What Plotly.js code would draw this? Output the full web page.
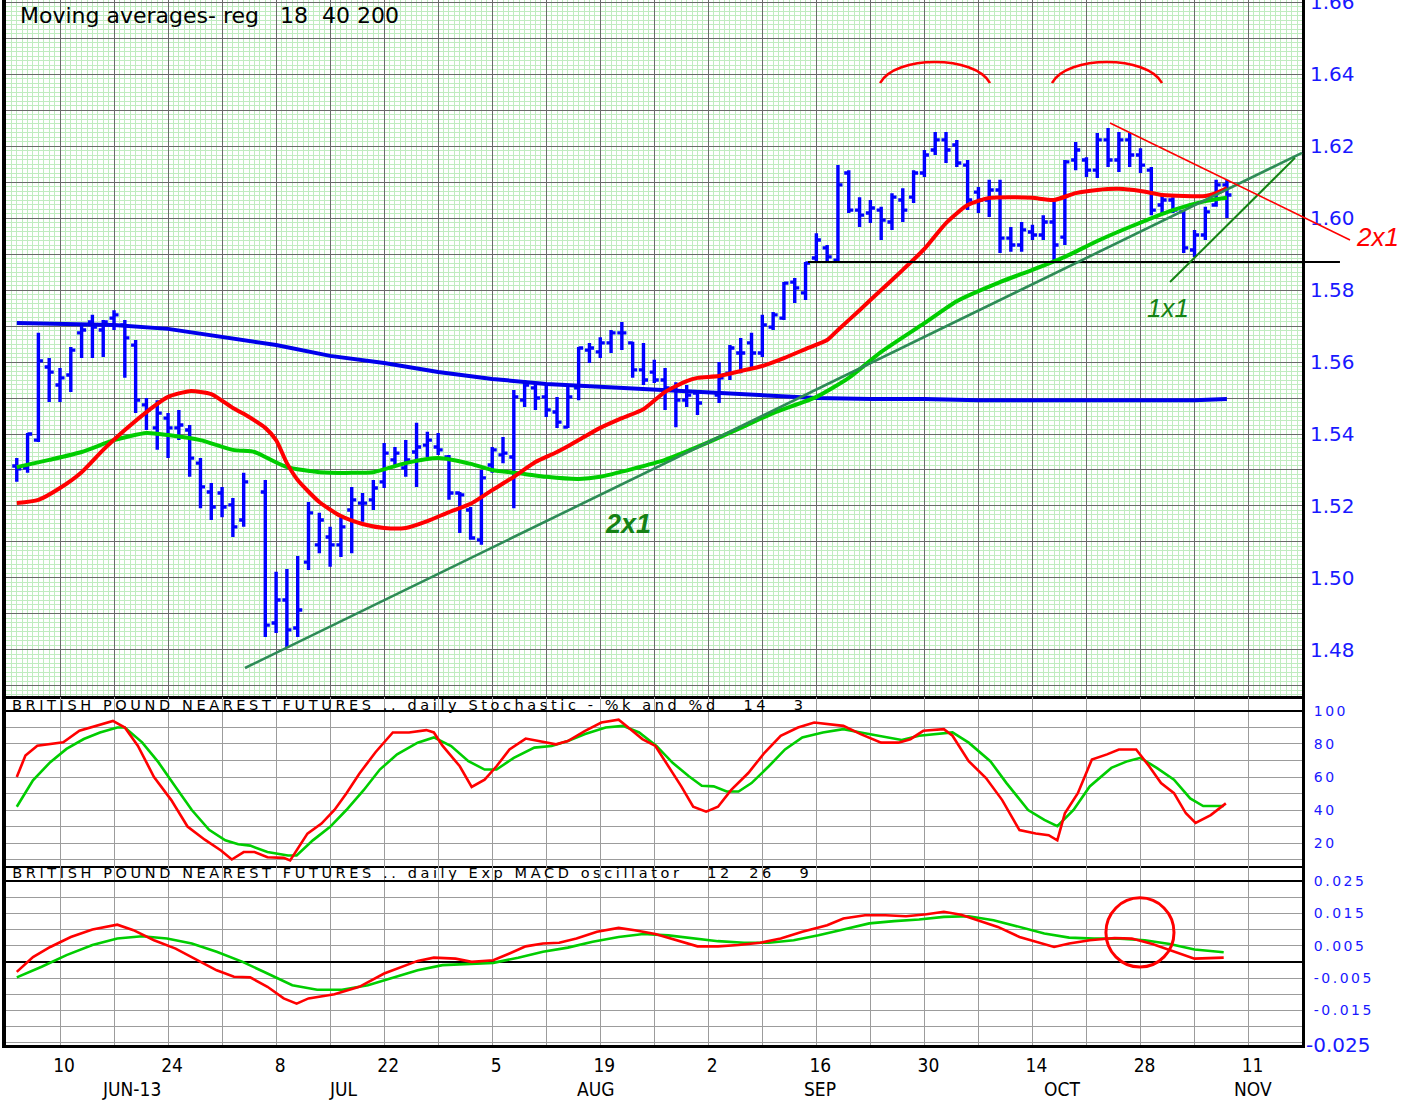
<!DOCTYPE html>
<html>
<head>
<meta charset="utf-8">
<script src="https://cdn.plot.ly/plotly-3.0.1.min.js"></script>
<style>
html,body{margin:0;padding:0;background:#fff;}
#chart{width:1419px;height:1103px;}
g.annotation[data-index="1"] text, g.annotation[data-index="2"] text { letter-spacing: 3.6px; }
g.y2tick text, g.y3tick text { letter-spacing: 2.5px; }
</style>
</head>
<body>
<div id="chart"></div>
<script>
// ---------------- DATA ----------------
const dates = [
 "2013-06-04","2013-06-05","2013-06-06","2013-06-07",
 "2013-06-10","2013-06-11","2013-06-12","2013-06-13","2013-06-14",
 "2013-06-17","2013-06-18","2013-06-19","2013-06-20","2013-06-21",
 "2013-06-24","2013-06-25","2013-06-26","2013-06-27","2013-06-28",
 "2013-07-01","2013-07-02","2013-07-03","2013-07-05",
 "2013-07-08","2013-07-09","2013-07-10","2013-07-11","2013-07-12",
 "2013-07-15","2013-07-16","2013-07-17","2013-07-18","2013-07-19",
 "2013-07-22","2013-07-23","2013-07-24","2013-07-25","2013-07-26",
 "2013-07-29","2013-07-30","2013-07-31","2013-08-01","2013-08-02",
 "2013-08-05","2013-08-06","2013-08-07","2013-08-08","2013-08-09",
 "2013-08-12","2013-08-13","2013-08-14","2013-08-15","2013-08-16",
 "2013-08-19","2013-08-20","2013-08-21","2013-08-22","2013-08-23",
 "2013-08-26","2013-08-27","2013-08-28","2013-08-29","2013-08-30",
 "2013-09-03","2013-09-04","2013-09-05","2013-09-06",
 "2013-09-09","2013-09-10","2013-09-11","2013-09-12","2013-09-13",
 "2013-09-16","2013-09-17","2013-09-18","2013-09-19","2013-09-20",
 "2013-09-23","2013-09-24","2013-09-25","2013-09-26","2013-09-27",
 "2013-09-30","2013-10-01","2013-10-02","2013-10-03","2013-10-04",
 "2013-10-07","2013-10-08","2013-10-09","2013-10-10","2013-10-11",
 "2013-10-14","2013-10-15","2013-10-16","2013-10-17","2013-10-18",
 "2013-10-21","2013-10-22","2013-10-23","2013-10-24","2013-10-25",
 "2013-10-28","2013-10-29","2013-10-30","2013-10-31","2013-11-01",
 "2013-11-04","2013-11-05","2013-11-06","2013-11-07"
];
const openP = [
 1.5311,1.5306,1.5383,1.5586,
 1.5536,1.5564,1.5681,1.5711,1.5689,
 1.5722,1.5703,1.5647,1.5481,1.5417,
 1.5444,1.5417,1.5411,1.5319,1.5239,
 1.5236,1.5203,1.5161,1.5239,
 1.4875,1.4939,1.4861,1.5044,1.5092,
 1.5114,1.5092,1.5189,1.5208,1.5217,
 1.5267,1.5328,1.5306,1.5350,1.5369,
 1.5364,1.5336,1.5236,1.5189,1.5106,
 1.5314,1.5342,1.5336,1.5494,1.5528,
 1.5503,1.5461,1.5419,1.5528,1.5633,
 1.5628,1.5653,1.5681,1.5653,1.5578,
 1.5572,1.5550,1.5528,1.5494,1.5514,
 1.5508,1.5569,1.5625,1.5653,
 1.5625,1.5697,1.5722,1.5822,1.5792,
 1.5889,1.5917,1.5883,1.6125,1.6022,
 1.6014,1.6022,1.5989,1.6050,1.6058,
 1.6125,1.6189,1.6217,1.6203,1.6147,
 1.6072,1.6050,1.6078,1.5944,1.5925,
 1.5961,1.5953,1.5989,1.5947,1.6161,
 1.6161,1.6133,1.6217,1.6161,1.6217,
 1.6175,1.6133,1.6036,1.6050,1.6017,
 1.5911,1.5953,1.6036,1.6092
];
const highP = [
 1.5333,1.5403,1.5681,1.5611,
 1.5583,1.5642,1.5703,1.5731,1.5717,
 1.5744,1.5717,1.5661,1.5500,1.5494,
 1.5458,1.5467,1.5425,1.5333,1.5264,
 1.5253,1.5222,1.5292,1.5272,
 1.5017,1.5025,1.5061,1.5211,1.5181,
 1.5142,1.5169,1.5253,1.5236,1.5272,
 1.5375,1.5364,1.5383,1.5431,1.5406,
 1.5403,1.5342,1.5239,1.5197,1.5300,
 1.5364,1.5392,1.5522,1.5550,1.5544,
 1.5536,1.5503,1.5531,1.5642,1.5653,
 1.5669,1.5689,1.5711,1.5656,1.5653,
 1.5606,1.5583,1.5544,1.5536,1.5522,
 1.5600,1.5647,1.5667,1.5681,
 1.5731,1.5739,1.5822,1.5833,1.5878,
 1.5958,1.5925,1.6147,1.6133,1.6058,
 1.6050,1.6031,1.6069,1.6083,1.6133,
 1.6189,1.6239,1.6239,1.6217,1.6161,
 1.6086,1.6106,1.6106,1.5975,1.5989,
 1.5981,1.6008,1.6050,1.6161,1.6211,
 1.6169,1.6236,1.6250,1.6239,1.6236,
 1.6194,1.6142,1.6064,1.6058,1.6022,
 1.5967,1.6031,1.6106,1.6106
];
const lowP = [
 1.5267,1.5292,1.5378,1.5489,
 1.5489,1.5517,1.5611,1.5611,1.5614,
 1.5689,1.5556,1.5458,1.5411,1.5356,
 1.5333,1.5383,1.5281,1.5194,1.5161,
 1.5169,1.5114,1.5142,1.4836,
 1.4847,1.4808,1.4836,1.5022,1.5069,
 1.5031,1.5058,1.5069,1.5156,1.5189,
 1.5250,1.5308,1.5281,1.5253,1.5336,
 1.5342,1.5217,1.5125,1.5106,1.5092,
 1.5292,1.5319,1.5194,1.5475,1.5467,
 1.5447,1.5417,1.5417,1.5494,1.5597,
 1.5611,1.5625,1.5633,1.5556,1.5536,
 1.5542,1.5467,1.5419,1.5475,1.5453,
 1.5486,1.5550,1.5569,1.5583,
 1.5614,1.5689,1.5717,1.5764,1.5772,
 1.5878,1.5878,1.5878,1.6014,1.5975,
 1.5986,1.5939,1.5967,1.5989,1.6042,
 1.6114,1.6175,1.6153,1.6142,1.6022,
 1.6014,1.6003,1.5903,1.5906,1.5906,
 1.5939,1.5939,1.5878,1.5925,1.6133,
 1.6114,1.6111,1.6142,1.6128,1.6142,
 1.6125,1.6008,1.6014,1.6014,1.5903,
 1.5892,1.5939,1.6031,1.6000
];
const closeP = [
 1.5303,1.5400,1.5603,1.5572,
 1.5556,1.5633,1.5689,1.5697,1.5711,
 1.5731,1.5667,1.5494,1.5467,1.5458,
 1.5417,1.5425,1.5333,1.5253,1.5197,
 1.5197,1.5142,1.5267,1.4869,
 1.4939,1.4856,1.4911,1.5181,1.5161,
 1.5092,1.5142,1.5217,1.5208,1.5250,
 1.5347,1.5347,1.5328,1.5364,1.5383,
 1.5356,1.5236,1.5231,1.5111,1.5278,
 1.5356,1.5347,1.5503,1.5536,1.5500,
 1.5467,1.5433,1.5503,1.5639,1.5639,
 1.5653,1.5681,1.5681,1.5578,1.5550,
 1.5550,1.5528,1.5494,1.5508,1.5486,
 1.5556,1.5639,1.5625,1.5625,
 1.5703,1.5731,1.5819,1.5806,1.5875,
 1.5939,1.5892,1.6092,1.6022,1.6008,
 1.6028,1.5994,1.6058,1.6022,1.6125,
 1.6175,1.6217,1.6189,1.6153,1.6050,
 1.6050,1.6078,1.5944,1.5925,1.5967,
 1.5953,1.5989,1.5925,1.6156,1.6189,
 1.6133,1.6217,1.6161,1.6217,1.6175,
 1.6147,1.6022,1.6050,1.6022,1.5917,
 1.5953,1.6017,1.6092,1.6064
];

// moving averages (trading-day slot counted from Mon 10 Jun 2013)
const ma18Day = [-4,-2,0,2,4,6,8,10,12,14,16,17,19,20,21,22,24,26,28,30,32,34,36,38,40,42,44,46,48,50,52,54,56,58,59,61,63,65,67,69,71,72,74,76,78,80,82,84,86,88,90,92,94,96,98,100,102,104,106,107,108];
const ma18Val = [1.5208,1.5217,1.5250,1.5294,1.5356,1.5411,1.5461,1.5503,1.5519,1.5511,1.5472,1.5456,1.5417,1.5383,1.5319,1.5272,1.5211,1.5172,1.5150,1.5139,1.5139,1.5158,1.5183,1.5206,1.5244,1.5281,1.5322,1.5350,1.5383,1.5417,1.5444,1.5469,1.5517,1.5547,1.5556,1.5561,1.5575,1.5589,1.5611,1.5636,1.5661,1.5689,1.5744,1.5800,1.5856,1.5914,1.5986,1.6036,1.6056,1.6058,1.6056,1.6050,1.6069,1.6078,1.6081,1.6075,1.6064,1.6061,1.6061,1.6069,1.6083];
const ma40Day = [-4,-1,2,5,8,10,13,16,18,19,21,24,27,29,32,35,38,40,43,45,48,50,53,56,59,63,66,70,73,76,80,83,87,90,93,96,99,103,106,108];
const ma40Val = [1.5308,1.5328,1.5350,1.5383,1.5403,1.5397,1.5383,1.5356,1.5350,1.5336,1.5308,1.5294,1.5292,1.5294,1.5319,1.5333,1.5317,1.5300,1.5289,1.5281,1.5275,1.5281,1.5303,1.5328,1.5364,1.5417,1.5458,1.5503,1.5556,1.5628,1.5708,1.5769,1.5822,1.5856,1.5892,1.5936,1.5975,1.6022,1.6047,1.6056];
const ma200Day = [-4,0,5,10,15,20,25,30,35,40,45,50,55,60,65,70,75,80,85,90,95,100,105,108];
const ma200Val = [1.5708,1.5706,1.5703,1.5692,1.5669,1.5647,1.5617,1.5597,1.5572,1.5553,1.5539,1.5531,1.5522,1.5514,1.5506,1.5500,1.5497,1.5497,1.5494,1.5494,1.5492,1.5492,1.5494,1.5497];

// stochastic %K / %D
const kDay = [-4.0,-3.2,-2.1,-0.9,0.3,1.8,3.3,4.9,6.0,7.2,8.7,10.3,11.8,13.4,14.9,15.9,17.0,18.0,19.2,20.7,21.3,22.9,24.2,25.4,26.5,27.7,29.2,30.8,32.3,33.9,34.6,35.4,37.0,38.1,39.3,40.4,41.6,43.1,44.3,45.9,47.0,48.6,50.1,51.7,52.4,53.9,55.1,56.3,57.5,58.6,59.8,60.9,62.1,63.7,65.2,66.7,68.3,69.8,71.4,72.5,74.1,76.0,77.6,78.7,79.9,81.8,82.6,84.1,85.7,87.2,88.8,90.3,91.5,92.3,93.0,94.2,95.5,96.9,98.0,99.6,100.8,101.9,103.1,104.2,105.1,106.5,107.9];
const kVal = [60,73,79,80,81,88,91,94,90,79,60,46,30,22,15.5,10,14.5,14.5,11.4,11,9.4,25.7,31.8,40,50,62,75,87,87,88.4,87,79,66.5,54,58.4,66.5,76.7,83.3,81.8,79.8,81.8,88,93,94.7,91,83,78.8,66.5,54.3,42,39,42,52,62.4,74.7,85,90,93,92,91,86,80.8,80.8,82.9,88,89,85,69.6,59.4,46,27.8,25.7,24.7,21.6,38,50.2,70.6,73.7,76.7,76.7,66.5,56.3,50.2,38,32.2,36.9,44];
const dDay = [-4.0,-2.5,-0.9,0.6,2.2,3.7,5.3,6.0,7.6,9.1,10.7,12.2,13.8,15.3,16.5,17.6,19.2,21.1,21.9,23.4,25.0,26.5,28.1,29.6,31.2,33.1,34.6,36.2,37.8,39.3,40.4,42.0,43.9,45.5,47.0,48.6,50.5,52.1,53.6,55.2,56.7,58.2,59.4,60.5,61.7,62.8,64.0,65.6,67.1,68.7,70.6,72.5,74.1,76.4,77.9,79.5,81.0,82.6,84.1,86.1,87.6,89.6,91.1,92.3,93.8,95.3,97.3,98.8,100.0,101.5,103.1,104.6,105.8,107.7];
const dVal = [42,58,69,77,83,87,90,90,81,69,54,40,28,21.6,19.2,18.4,14.5,12.4,12.4,21.6,29.8,40,52,64.5,73.7,80.8,84,78.8,69.6,64.5,64.5,71.6,77.8,78.8,81.8,86,90,91,87,78.8,68.6,60.4,54.7,54.3,51.2,51.2,56.3,66.5,76.7,84,87,89,87,84,82.4,85,86,87,80.8,69.6,56.3,40,34,30.2,40,54.3,65.5,69.6,71.6,65.5,58.4,47,42.4,42.4];

// MACD and signal
const macdDay = [-4.0,-2.5,-0.9,1.0,3.0,5.3,6.8,8.7,10.7,13.0,14.5,16.1,17.6,19.2,20.7,21.9,23.0,25.4,27.7,30.0,31.6,33.1,34.6,36.6,38.1,40.1,41.6,43.1,44.7,46.2,47.8,49.7,51.7,53.2,55.1,57.1,59.0,60.9,62.8,64.8,66.7,68.7,71.0,72.5,74.5,76.4,78.3,80.2,81.8,83.4,84.9,86.8,88.8,90.3,92.0,93.4,95.3,97.6,99.2,101.1,102.7,105.0,107.7];
const macdVal = [-0.0031,0.0015,0.0046,0.0077,0.0100,0.0115,0.0098,0.0067,0.0041,0.0000,-0.0026,-0.0046,-0.0048,-0.0077,-0.0113,-0.0129,-0.0113,-0.0100,-0.0077,-0.0036,-0.0015,0.0003,0.0013,0.0010,0.0000,0.0005,0.0026,0.0048,0.0057,0.0059,0.0072,0.0093,0.0105,0.0098,0.0086,0.0067,0.0048,0.0048,0.0052,0.0059,0.0072,0.0093,0.0113,0.0134,0.0144,0.0144,0.0141,0.0147,0.0155,0.0146,0.0129,0.0108,0.0077,0.0062,0.0046,0.0057,0.0067,0.0074,0.0072,0.0055,0.0036,0.0010,0.0013];
const sigDay = [-4.0,-1.7,0.6,3.0,5.3,7.6,9.9,12.2,14.5,16.9,19.2,21.5,23.8,26.1,28.5,30.8,33.1,35.4,37.7,40.1,42.4,44.7,47.0,49.3,51.7,54.0,56.3,58.6,60.9,63.3,65.6,67.9,70.2,72.5,74.9,77.2,79.5,81.8,84.1,86.4,88.8,91.1,93.4,95.7,98.1,100.4,102.7,105.0,107.7];
const sigVal = [-0.0048,-0.0015,0.0021,0.0052,0.0072,0.0079,0.0072,0.0057,0.0031,0.0000,-0.0036,-0.0072,-0.0086,-0.0086,-0.0072,-0.0048,-0.0026,-0.0010,-0.0007,-0.0003,0.0013,0.0031,0.0044,0.0062,0.0077,0.0086,0.0082,0.0072,0.0064,0.0059,0.0059,0.0067,0.0082,0.0100,0.0119,0.0126,0.0131,0.0139,0.0141,0.0129,0.0108,0.0088,0.0075,0.0072,0.0072,0.0067,0.0055,0.0038,0.0030];

// drawn analysis lines (slot, price)
const trend2x1Day = [17.12, 114.95], trend2x1Px = [1.4750, 1.6181];
const trend1x1Day = [102.73, 114.3], trend1x1Px = [1.5822, 1.6167];
const trendDownDay = [97.18, 119.39], trendDownPx = [1.6264, 1.5939];
const supportDay = [69.23, 118.46], supportPx = [1.5878, 1.5878];
const arc1Day = [75.9, 77.28, 84.68, 86.07], arc1Px = [1.6375, 1.6453, 1.6453, 1.6375];
const arc2Day = [91.81, 93.2, 100.6, 101.99], arc2Px = [1.6375, 1.6453, 1.6453, 1.6375];
const circleDay = [96.8, 103.1], circleMacd = [-0.0016, 0.0198];

// tick labels
const xTickDay = [0,10,20,30,40,50,60,70,80,90,100,110];
const xTickText = ["10","24","8","22","5","19","2","16","30","14","28","11"];
const monthText = ["JUN-13","JUL","AUG","SEP","OCT","NOV"];
const monthDay = [6.66, 26.2, 49.6, 70.3, 92.7, 110.4];
const priceTicks = [1.48,1.50,1.52,1.54,1.56,1.58,1.60,1.62,1.64,1.66];
const stochTicks = [20,40,60,80,100];
const macdTicks = [-0.015,-0.005,0.005,0.015,0.025];
const macdTickText = ["-0.015","-0.005","0.005","0.015","0.025"];

// ---------------- helpers ----------------
function slot(ds){
  const t = Date.UTC(+ds.slice(0,4), +ds.slice(5,7)-1, +ds.slice(8,10));
  const t0 = Date.UTC(2013,5,10);
  const days = Math.round((t - t0)/864e5);
  const w = Math.floor(days/7);
  return 5*w + (days - 7*w);
}
const barX = dates.map(slot);

const XR = [-5.09, 114.947];
const XD = 1297/1414;
const YR = [1.46694, 1.66056];
const GREEN_GRID = 'rgb(192,236,192)';
const DARK_GRID = '#6a6a6a';
const LOW_GRID = '#9c9c9c';
const BLUE_TXT = 'rgb(25,25,255)';
const FONT = 'DejaVu Sans, Verdana, sans-serif';

const weekGrid = []; for(let v=-5; v<=110; v+=5) weekGrid.push(v);
const weekText = weekGrid.map(v => { const i = xTickDay.indexOf(v); return i >= 0 ? xTickText[i] : ''; });
const priceGrid = []; for(let i=0;i<=19;i++) priceGrid.push(+(1.47 + i*0.01).toFixed(2));
const priceText = priceGrid.map(v => priceTicks.some(p => Math.abs(p-v)<1e-9) ? v.toFixed(2) : '');
const stochGrid = [10,20,30,40,50,60,70,80,90,100];
const stochText = stochGrid.map(v => stochTicks.includes(v) ? String(v) : '');
const macdGrid = []; for(let i=0;i<=10;i++) macdGrid.push(+(-0.025 + i*0.005).toFixed(3));
const macdText = macdGrid.map(v => { const i = macdTicks.findIndex(m => Math.abs(m-v)<1e-9); return i>=0 ? macdTickText[i] : ''; });

// ---------------- traces ----------------
const traces = [
  {type:'ohlc', x:barX, open:openP, high:highP, low:lowP, close:closeP, xaxis:'x', yaxis:'y',
   increasing:{line:{color:'rgb(0,0,255)', width:3.4}}, decreasing:{line:{color:'rgb(0,0,255)', width:3.4}},
   tickwidth:0.42, hoverinfo:'skip'},
  {type:'scatter', mode:'lines', x:ma200Day, y:ma200Val, xaxis:'x', yaxis:'y', line:{color:'rgb(0,0,235)', width:4}, hoverinfo:'skip'},
  {type:'scatter', mode:'lines', x:ma40Day, y:ma40Val, xaxis:'x', yaxis:'y', line:{color:'rgb(0,205,0)', width:4, shape:'spline', smoothing:0.6}, hoverinfo:'skip'},
  {type:'scatter', mode:'lines', x:ma18Day, y:ma18Val, xaxis:'x', yaxis:'y', line:{color:'rgb(255,0,0)', width:4, shape:'spline', smoothing:0.6}, hoverinfo:'skip'},

  {type:'scatter', mode:'lines', x:dDay, y:dVal, xaxis:'x2', yaxis:'y2', line:{color:'rgb(0,205,0)', width:2.6}, hoverinfo:'skip'},
  {type:'scatter', mode:'lines', x:kDay, y:kVal, xaxis:'x2', yaxis:'y2', line:{color:'rgb(255,0,0)', width:2.6}, hoverinfo:'skip'},

  {type:'scatter', mode:'lines', x:sigDay, y:sigVal, xaxis:'x3', yaxis:'y3', line:{color:'rgb(0,205,0)', width:2.6}, hoverinfo:'skip'},
  {type:'scatter', mode:'lines', x:macdDay, y:macdVal, xaxis:'x3', yaxis:'y3', line:{color:'rgb(255,0,0)', width:2.6}, hoverinfo:'skip'},

  {type:'scatter', mode:'lines', x:supportDay, y:supportPx, xaxis:'x4', yaxis:'y4', line:{color:'#000', width:2}, hoverinfo:'skip'},
  {type:'scatter', mode:'lines', x:trend2x1Day, y:trend2x1Px, xaxis:'x4', yaxis:'y4', line:{color:'rgb(46,139,87)', width:2.6}, hoverinfo:'skip'},
  {type:'scatter', mode:'lines', x:trend1x1Day, y:trend1x1Px, xaxis:'x4', yaxis:'y4', line:{color:'rgb(20,130,20)', width:2}, hoverinfo:'skip'},
  {type:'scatter', mode:'lines', x:trendDownDay, y:trendDownPx, xaxis:'x4', yaxis:'y4', line:{color:'rgb(255,0,0)', width:1.6}, hoverinfo:'skip'}
];

function arcPath(xs, ys){
  return `M ${xs[0]},${ys[0]} C ${xs[1]},${ys[1]} ${xs[2]},${ys[2]} ${xs[3]},${ys[3]}`;
}

const layout = {
  width:1419, height:1103,
  margin:{l:5, r:0, t:0, b:58, pad:0, autoexpand:false},
  paper_bgcolor:'#ffffff', plot_bgcolor:'rgba(255,255,255,0)',
  showlegend:false, hovermode:false,
  font:{family:FONT, color:'#000'},
  xaxis:{domain:[0,XD], range:XR, anchor:'y', automargin:false, rangeslider:{visible:false},
    tickmode:'array', tickvals:weekGrid, ticktext:weekGrid.map(()=>''),
    showticklabels:false, ticks:'', showgrid:true, gridcolor:DARK_GRID, gridwidth:1, zeroline:false,
    showline:true, mirror:true, linecolor:'#000', linewidth:2,
    minor:{tickmode:'linear', tick0:0, dtick:0.5, showgrid:true, gridcolor:GREEN_GRID, gridwidth:1, ticks:''}},
  yaxis:{domain:[348/1045,1], range:YR, anchor:'x', side:'right', automargin:false,
    tickmode:'array', tickvals:priceGrid, ticktext:priceText, ticklabeloverflow:'allow',
    tickfont:{family:FONT, size:20, color:BLUE_TXT}, ticks:'', ticklabelstandoff:1,
    showgrid:true, gridcolor:DARK_GRID, gridwidth:1, zeroline:false,
    showline:true, mirror:true, linecolor:'#000', linewidth:3,
    minor:{tickmode:'linear', tick0:1.46, dtick:0.00125, showgrid:true, gridcolor:GREEN_GRID, gridwidth:1, ticks:''}},
  xaxis2:{domain:[0,XD], range:XR, anchor:'y2', automargin:false, tickmode:'array', tickvals:weekGrid, ticktext:weekGrid.map(()=>''),
    showticklabels:false, ticks:'', showgrid:true, gridcolor:LOW_GRID, gridwidth:1, zeroline:false,
    showline:true, mirror:true, linecolor:'#000', linewidth:1.5},
  yaxis2:{domain:[179/1045, 348/1045], range:[6.06,108.48], anchor:'x2', side:'right', automargin:false,
    tickmode:'array', tickvals:stochGrid, ticktext:stochText,
    tickfont:{family:FONT, size:14, color:BLUE_TXT}, ticks:'', ticklabelstandoff:6,
    showgrid:true, gridcolor:LOW_GRID, gridwidth:1, zeroline:false,
    showline:true, mirror:true, linecolor:'#000', linewidth:3},
  xaxis3:{domain:[0,XD], range:XR, anchor:'y3', automargin:false, tickmode:'array', tickvals:weekGrid, ticktext:weekText,
    tickfont:{family:'DejaVu Sans Condensed, DejaVu Sans, sans-serif', size:19, color:'#000'}, ticks:'', ticklabelstandoff:1, ticklabelshift:4,
    showgrid:true, gridcolor:LOW_GRID, gridwidth:1, zeroline:false,
    showline:true, mirror:false, linecolor:'#000', linewidth:3},
  yaxis3:{domain:[0, 179/1045], range:[-0.0257,0.02964], anchor:'x3', side:'right', automargin:false,
    tickmode:'array', tickvals:macdGrid, ticktext:macdText,
    tickfont:{family:FONT, size:14, color:BLUE_TXT}, ticks:'', ticklabelstandoff:6,
    showgrid:true, gridcolor:LOW_GRID, gridwidth:1, zeroline:true, zerolinecolor:'#000', zerolinewidth:2,
    showline:true, mirror:true, linecolor:'#000', linewidth:3},
  xaxis4:{domain:[0,1], range:[XR[0], XR[0] + 1414/10.805], anchor:'y4', visible:false, fixedrange:true, automargin:false},
  yaxis4:{domain:[348/1045,1], range:YR, anchor:'x4', visible:false, fixedrange:true, automargin:false},
  shapes:[
    {type:'path', xref:'x4', yref:'y4', path:arcPath(arc1Day, arc1Px), line:{color:'rgb(255,0,0)', width:2.6}},
    {type:'path', xref:'x4', yref:'y4', path:arcPath(arc2Day, arc2Px), line:{color:'rgb(255,0,0)', width:2.6}},
    {type:'circle', xref:'x3', yref:'y3', x0:circleDay[0], x1:circleDay[1], y0:circleMacd[0], y1:circleMacd[1], line:{color:'rgb(255,0,0)', width:3}},
    {type:'line', xref:'x2 domain', yref:'y2', x0:0, x1:1, y0:100, y1:100, line:{color:'#000', width:2}},
    {type:'line', xref:'x3 domain', yref:'y3', x0:0, x1:1, y0:0.025, y1:0.025, line:{color:'#000', width:2}},
    {type:'line', xref:'paper', yref:'paper', x0:-1/1414, x1:-1/1414, y0:0, y1:1, line:{color:'#000', width:4}}
  ],
  annotations:[
    {xref:'paper', yref:'paper', x:13/1414, y:1-16/1045, xanchor:'left', yanchor:'middle', showarrow:false,
     text:'Moving averages- reg\u00a0\u00a0\u00a018\u00a0\u00a040 200', font:{family:FONT, size:22, color:'#000'}},
    {xref:'paper', yref:'paper', x:5/1414, y:(1045-705)/1045, xanchor:'left', yanchor:'middle', showarrow:false, xshift:126,
     text:'BRITISH POUND NEAREST FUTURES .. daily Stochastic - %k and %d\u00a0\u00a0\u00a014\u00a0\u00a0\u00a03', font:{family:FONT, size:14.5, color:'#000'}},
    {xref:'paper', yref:'paper', x:5/1414, y:(1045-873)/1045, xanchor:'left', yanchor:'middle', showarrow:false, xshift:128,
     text:'BRITISH POUND NEAREST FUTURES .. daily Exp MACD oscillator\u00a0\u00a0\u00a012\u00a0\u00a026\u00a0\u00a0\u00a09', font:{family:FONT, size:14.5, color:'#000'}},
    {xref:'x4', yref:'y4', x:52.57, y:1.5150, showarrow:false, text:'<b><i>2x1</i></b>',
     font:{family:'Liberation Sans, Arial, sans-serif', size:27, color:'rgb(20,130,20)'}},
    {xref:'x4', yref:'y4', x:102.5, y:1.5750, showarrow:false, text:'<i>1x1</i>',
     font:{family:'Liberation Sans, Arial, sans-serif', size:26, color:'rgb(20,130,20)'}},
    {xref:'x4', yref:'y4', x:121.98, y:1.5947, showarrow:false, text:'<i>2x1</i>',
     font:{family:'Liberation Sans, Arial, sans-serif', size:26, color:'rgb(255,0,0)'}},
    {xref:'paper', yref:'y3', x:XD + 2/1414, y:-0.0257, xanchor:'left', yanchor:'middle', showarrow:false, text:'-0.025',
     font:{family:FONT, size:20, color:BLUE_TXT}}
  ].concat(monthText.map((m,i) => ({xref:'x3', yref:'paper', x:monthDay[i], y:-44/1045, xanchor:'center', yanchor:'middle',
     showarrow:false, text:m, font:{family:'DejaVu Sans Condensed, DejaVu Sans, sans-serif', size:19, color:'#000'}})))
};

Plotly.newPlot('chart', traces, layout, {staticPlot:true, displayModeBar:false});
</script>
</body>
</html>
